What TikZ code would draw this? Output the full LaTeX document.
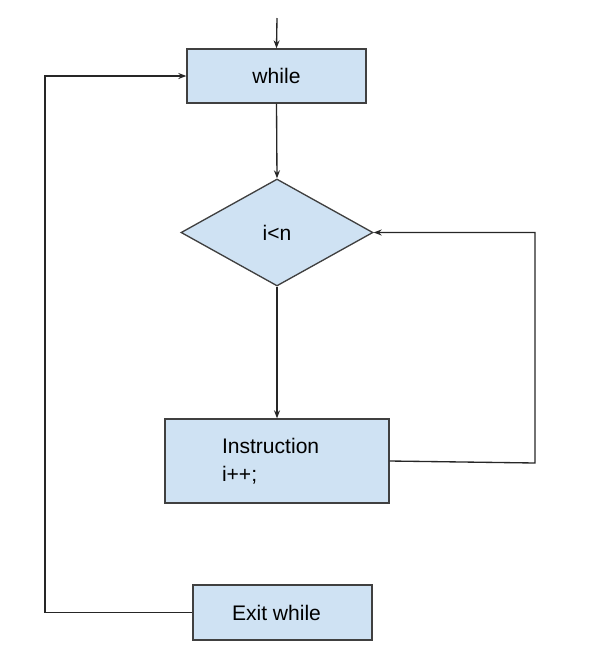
\documentclass[tikz,border=0pt]{standalone}
\usepackage{fontspec}
\setmainfont{Liberation Sans}
\usetikzlibrary{shapes.geometric,arrows.meta}
\definecolor{boxblue}{RGB}{207,226,243}
\tikzset {>={Stealth[length=6pt,width=4.5pt]}}

\begin{document}
\begin{tikzpicture}[x=.75pt,y=-.75pt,
  box/.style={draw=black!75,line width=1pt,fill=boxblue,inner sep=0pt,
    font=\fontsize{15.8}{21}\selectfont},
  link/.style={draw=black!85,line width=1pt}]
\useasboundingbox (0,0) rectangle (604,658);

\node[box,minimum width=134.25pt,minimum height=40.5pt] (while) at (276.5,76) {while};
\node[box,shape=diamond,minimum width=144pt,minimum height=80.25pt] (test) at (277,232.5) {i<n};
\node[box,minimum height=63pt,text width=82.5pt,inner xsep=42.75pt,align=left] (instr) at (277,461) {Instruction\\i++;};
\node[box,minimum width=134.25pt,minimum height=41.25pt] (exit) at (282.5,612.5) {\hspace*{-9pt}Exit while};

\coordinate (start) at (277,18);
\coordinate (rb) at (535,463);
\coordinate (rt) at (535,232.5);
\coordinate (lb) at (45,612.5);
\coordinate (lt) at (45,76);

\draw[link,->] (start) -- (while.north);
\draw[link,->] (while.south) -- (test.north);
\draw[link,->] (test.south) -- (instr.north);
\draw[link,->] (instr.east) -- (rb) -- (rt) -- (test.east);
\draw[link,->] (exit.west) -- (lb) -- (lt) -- (while.west);
\end{tikzpicture}
\end{document}
